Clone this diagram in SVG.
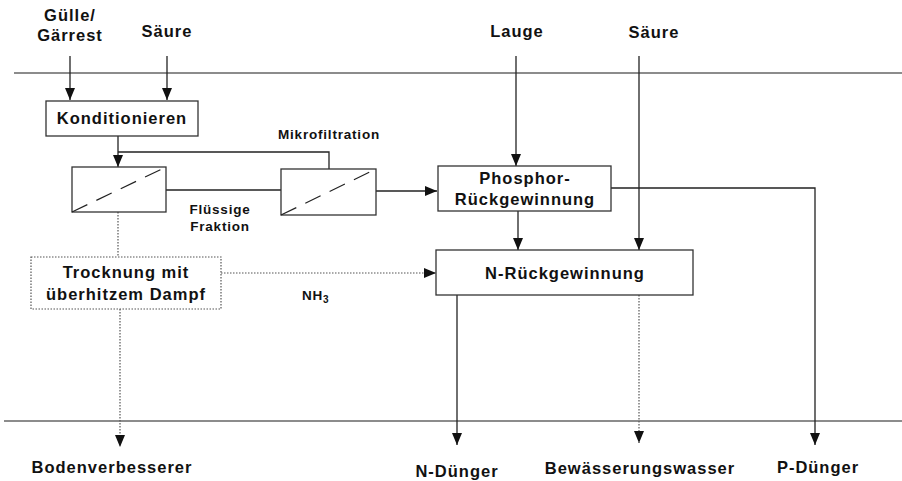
<svg xmlns="http://www.w3.org/2000/svg" width="902" height="481" viewBox="0 0 902 481">
<defs>
<style>
text{font-family:"Liberation Sans",Arial,sans-serif;font-weight:bold;fill:#111;text-anchor:middle}
.big{font-size:16.5px;letter-spacing:1px}
.small{font-size:13.5px;letter-spacing:0.8px}
.sep{stroke:#666;stroke-width:1.5;fill:none}
.ln{stroke:#222;stroke-width:1.3;fill:none}
.dot{stroke:#555;stroke-width:1.2;fill:none;stroke-dasharray:1.5 1.5}
.box{fill:#fff;stroke:#333;stroke-width:1.3}
.dbox{fill:#fff;stroke:#555;stroke-width:1.2;stroke-dasharray:1.5 1.5}
.diag{stroke:#222;stroke-width:1.2;stroke-dasharray:17 10}
</style>
<marker id="ah" markerUnits="userSpaceOnUse" markerWidth="12" markerHeight="10" refX="12" refY="5" orient="auto">
<path d="M0,0 L12,5 L0,10 z" fill="#111"/>
</marker>
</defs>
<rect width="902" height="481" fill="#fff"/>

<g id="separators">
<line class="sep" x1="14" y1="73" x2="902" y2="73"/>
<line class="sep" x1="4" y1="421" x2="902" y2="421"/>
</g>

<g id="connectors">
<line class="ln" x1="70" y1="56" x2="70" y2="100" marker-end="url(#ah)"/>
<line class="ln" x1="167" y1="56" x2="167" y2="100" marker-end="url(#ah)"/>
<line class="ln" x1="118" y1="136" x2="118" y2="167" marker-end="url(#ah)"/>
<polyline class="ln" points="118,152 329,152 329,169"/>
<line class="ln" x1="166" y1="190" x2="281" y2="190"/>
<line class="ln" x1="376" y1="191" x2="437" y2="191" marker-end="url(#ah)"/>
<line class="dot" x1="118" y1="212" x2="118" y2="257"/>
<line class="dot" x1="221" y1="273" x2="436" y2="273" marker-end="url(#ah)"/>
<line class="dot" x1="120" y1="309" x2="120" y2="447" marker-end="url(#ah)"/>
<line class="ln" x1="516" y1="56" x2="516" y2="166" marker-end="url(#ah)"/>
<line class="ln" x1="639" y1="56" x2="639" y2="250" marker-end="url(#ah)"/>
<line class="ln" x1="518" y1="211" x2="518" y2="250" marker-end="url(#ah)"/>
<polyline class="ln" points="611,188 815,188 815,445" marker-end="url(#ah)"/>
<line class="ln" x1="457" y1="295" x2="457" y2="445" marker-end="url(#ah)"/>
<line class="dot" x1="639" y1="295" x2="639" y2="443" marker-end="url(#ah)"/>
<text class="small" x="329" y="139">Mikrofiltration</text>
<text class="small" x="220" y="214">Flüssige</text>
<text class="small" x="220" y="231">Fraktion</text>
<text class="small" x="302" y="300" style="text-anchor:start">NH<tspan font-size="10" dy="3">3</tspan></text>
</g>

<g id="in-guelle">
<text class="big" x="70" y="21">Gülle/</text>
<text class="big" x="70" y="41">Gärrest</text>
</g>
<g id="in-saeure1"><text class="big" x="167" y="37">Säure</text></g>
<g id="in-lauge"><text class="big" x="517" y="37">Lauge</text></g>
<g id="in-saeure2"><text class="big" x="654" y="38">Säure</text></g>

<g id="konditionieren">
<rect class="box" x="46" y="101" width="152" height="35"/>
<text class="big" x="122" y="124">Konditionieren</text>
</g>

<g id="filter1">
<rect class="box" x="72" y="167" width="94" height="45"/>
<line class="diag" x1="72" y1="212" x2="166" y2="167"/>
</g>

<g id="filter2">
<rect class="box" x="281" y="169" width="95" height="46"/>
<line class="diag" x1="281" y1="215" x2="376" y2="169"/>
</g>

<g id="trocknung">
<rect class="dbox" x="31" y="257" width="190" height="52"/>
<text class="big" x="126" y="278">Trocknung mit</text>
<text class="big" x="126" y="300">überhitzem Dampf</text>
</g>

<g id="phosphor">
<rect class="box" x="438" y="166" width="173" height="45"/>
<text class="big" x="525" y="184">Phosphor-</text>
<text class="big" x="525" y="205">Rückgewinnung</text>
</g>

<g id="n-rueck">
<rect class="box" x="436" y="250" width="257" height="45"/>
<text class="big" x="565" y="279">N-Rückgewinnung</text>
</g>

<g id="out-boden"><text class="big" x="112" y="473">Bodenverbesserer</text></g>
<g id="out-ndung"><text class="big" x="457" y="477">N-Dünger</text></g>
<g id="out-wasser"><text class="big" x="640" y="474">Bewässerungswasser</text></g>
<g id="out-pdung"><text class="big" x="818" y="473">P-Dünger</text></g>
</svg>
